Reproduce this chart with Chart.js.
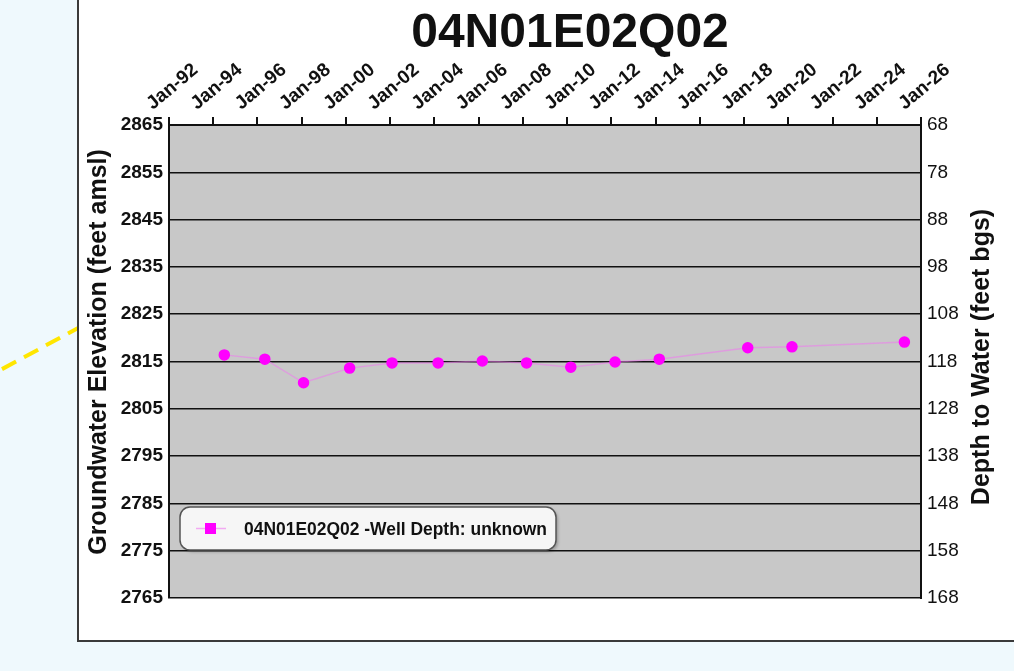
<!DOCTYPE html>
<html>
<head>
<meta charset="utf-8">
<script src="https://cdn.jsdelivr.net/npm/chart.js@4.4.1/dist/chart.umd.min.js"></script>
<style>
    body { margin: 0; background: #eff9fd; overflow: hidden; }
    #wrap { width: 1014px; height: 671px; }
</style>
</head>
<body>
<div id="wrap"><canvas id="wellChart" width="1014" height="671"></canvas></div>
<script>
var wellName = '04N01E02Q02';
var legendLabel = '04N01E02Q02 -Well Depth: unknown';
var leftTitle = 'Groundwater Elevation (feet amsl)';
var rightTitle = 'Depth to Water (feet bgs)';
var sampleDates = ['1994-07', '1996-05', '1998-02', '2000-03', '2002-02', '2004-03', '2006-03',
                   '2008-03', '2010-03', '2012-03', '2014-03', '2018-03', '2020-03', '2025-04'];
var elevations = [2816.4, 2815.5, 2810.5, 2813.6, 2814.7, 2814.7, 2815.1,
                  2814.7, 2813.8, 2814.9, 2815.5, 2817.9, 2818.1, 2819.1];
var elevRange = [2765, 2865];   // left axis (feet amsl)
var depthRange = [68, 168];     // right axis (feet bgs), reversed
var yearRange = [1992, 2026];

Chart.defaults.font.family = '"Liberation Sans", Arial, sans-serif';
Chart.defaults.color = '#111';

// 'YYYY-MM' -> decimal year
function toYear(s) {
    var p = s.split('-');
    return parseInt(p[0]) + (parseInt(p[1]) - 1) / 12;
}

var points = [];
for (var i = 0; i < sampleDates.length; i++) {
    points.push({ x: toYear(sampleDates[i]), y: elevations[i] });
}

function sideTitle(c, text, x, y, size) {
    c.save();
    c.translate(x, y);
    c.rotate(-Math.PI / 2);
    c.fillStyle = '#111';
    c.font = 'bold ' + size + 'px "Liberation Sans", Arial, sans-serif';
    c.textAlign = 'center';
    c.textBaseline = 'middle';
    c.fillText(text, 0, 0);
    c.restore();
}

var panelPlugin = {
    id: 'panel',
    beforeDraw: function(chart) {
        var c = chart.ctx, a = chart.chartArea;
        c.save();
        // yellow leader line coming in from the map
        c.strokeStyle = '#ffe600';
        c.lineWidth = 4;
        c.setLineDash([16, 9]);
        c.beginPath();
        c.moveTo(-20, 381);
        c.lineTo(80, 327);
        c.stroke();
        c.setLineDash([]);
        // white panel
        c.fillStyle = '#ffffff';
        c.fillRect(78, -2, 940, 643);
        c.strokeStyle = '#3a3a3a';
        c.lineWidth = 2;
        c.strokeRect(78, -2, 940, 643);
        // plot background
        c.fillStyle = '#c8c8c8';
        c.fillRect(a.left, a.top, a.right - a.left, a.bottom - a.top);
        // title
        c.fillStyle = '#111';
        c.font = 'bold 48px "Liberation Sans", Arial, sans-serif';
        c.textAlign = 'center';
        c.textBaseline = 'alphabetic';
        c.fillText(wellName, 570, 47);
        c.restore();
        // axis titles, both reading bottom to top
        sideTitle(c, leftTitle, 99, 352, 25);
        sideTitle(c, rightTitle, 982, 357, 25);
    },
    afterDraw: function(chart) {
        var c = chart.ctx, a = chart.chartArea;
        var x0 = a.left + 11, y0 = a.bottom - 91, w = 376, h = 43;
        c.save();
        c.shadowColor = 'rgba(0,0,0,0.25)';
        c.shadowOffsetX = 2;
        c.shadowOffsetY = 2;
        c.shadowBlur = 3;
        c.beginPath();
        c.roundRect(x0, y0, w, h, 10);
        c.fillStyle = '#f6f6f6';
        c.fill();
        c.shadowColor = 'transparent';
        c.strokeStyle = '#555';
        c.lineWidth = 1.5;
        c.stroke();
        // marker
        c.strokeStyle = 'rgba(240,120,240,0.6)';
        c.lineWidth = 1.5;
        c.beginPath();
        c.moveTo(x0 + 16, y0 + 21.5);
        c.lineTo(x0 + 46, y0 + 21.5);
        c.stroke();
        c.fillStyle = '#ff00ff';
        c.fillRect(x0 + 25, y0 + 16, 11, 11);
        // text
        c.fillStyle = '#111';
        c.font = 'bold 18px "Liberation Sans", Arial, sans-serif';
        c.textBaseline = 'alphabetic';
        c.fillText(chart.data.datasets[0].label, x0 + 64, y0 + 28, 303);
        c.restore();
    }
};

var ctx = document.getElementById('wellChart').getContext('2d');
new Chart(ctx, {
    type: 'line',
    data: {
        datasets: [
            {
                label: legendLabel,
                data: points,
                borderColor: 'rgba(240,120,240,0.55)',
                borderWidth: 1.5,
                pointBackgroundColor: '#ff00ff',
                pointBorderColor: '#ff00ff',
                pointRadius: 5,
                xAxisID: 'x',
                yAxisID: 'y'
            }
        ]
    },
    options: {
        responsive: false,
        animation: false,
        layout: { padding: { left: 80, top: 55, right: 0, bottom: 73 } },
        plugins: {
            legend: { display: false },
            title: { display: false },
            tooltip: { enabled: false }
        },
        scales: {
            x: {
                type: 'linear',
                position: 'top',
                min: yearRange[0],
                max: yearRange[1],
                ticks: {
                    stepSize: 2,
                    minRotation: 40,
                    maxRotation: 40,
                    padding: 2,
                    labelOffset: -5,
                    font: { size: 19, weight: 'bold' },
                    callback: function(v) {
                        return 'Jan-' + String(v % 100).padStart(2, '0');
                    }
                },
                grid: { drawOnChartArea: false, color: '#111', lineWidth: 2, tickLength: 8 },
                border: { color: '#111', width: 2 },
                afterFit: function(s) { s.height = 70; }
            },
            y: {
                position: 'left',
                min: elevRange[0],
                max: elevRange[1],
                ticks: {
                    stepSize: 10,
                    padding: 6,
                    font: { size: 19, weight: 'bold' },
                    callback: function(v) { return String(v); }
                },
                grid: { color: '#111', lineWidth: 1.5, drawTicks: false },
                border: { color: '#111', width: 2 },
                afterFit: function(s) { s.width = 89; }
            },
            y2: {
                position: 'right',
                reverse: true,
                min: depthRange[0],
                max: depthRange[1],
                ticks: {
                    stepSize: 10,
                    padding: 6,
                    font: { size: 19 },
                    callback: function(v) { return String(v); }
                },
                grid: { drawOnChartArea: false, drawTicks: false },
                border: { color: '#111', width: 2 },
                afterFit: function(s) { s.width = 93; }
            }
        }
    },
    plugins: [panelPlugin]
});
</script>
</body>
</html>
